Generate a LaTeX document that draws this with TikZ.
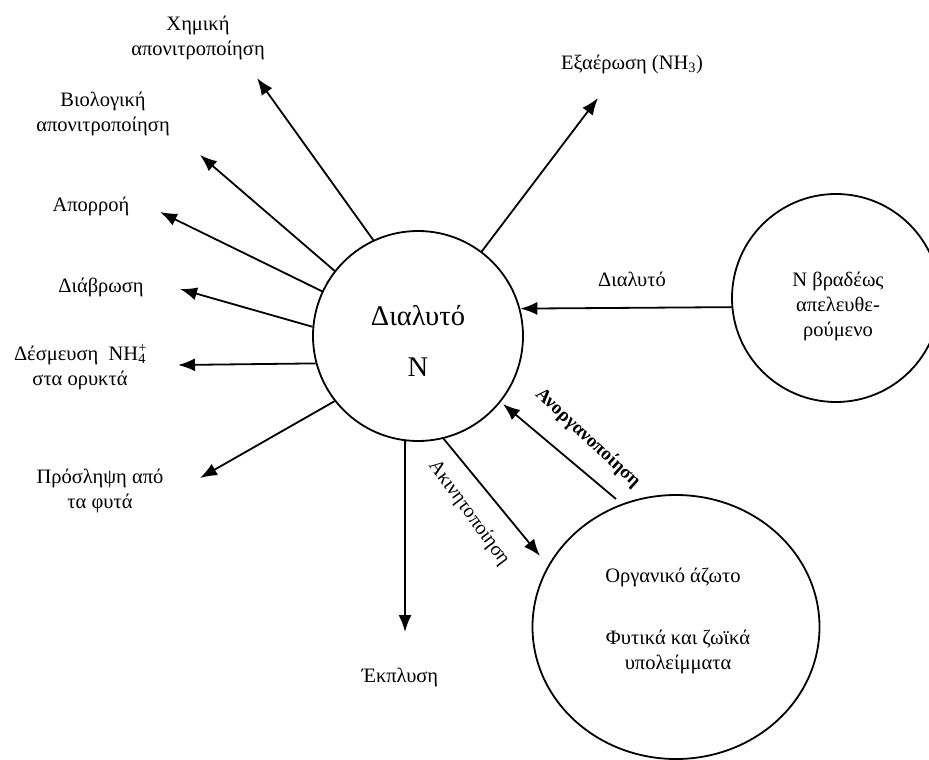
\documentclass[tikz,border=0pt]{standalone}
\usepackage{fontspec}
\setmainfont{Liberation Serif}
\usetikzlibrary{arrows.meta,shapes.geometric}
\begin{document}
\begin{tikzpicture}[x=1pt,y=-1pt,
  lbl/.style={font=\fontsize{20.5}{25}\selectfont, align=center, inner sep=0pt},
  big/.style={font=\fontsize{28.5}{32}\selectfont, inner sep=0pt},
  pool/.style={draw, line width=1.8pt, circle, inner sep=0pt},
  flow/.style={line width=1.8pt, -{Latex[length=17pt,width=13pt]}},
  rot/.style={font=\fontsize{20}{24}\selectfont, inner sep=0pt}]
\useasboundingbox (0,0) rectangle (929,760);
\clip (0,0) rectangle (929,760);
% pools
\node[pool, minimum size=210pt] (c) at (418,336) {};
\node[pool, minimum size=208pt] (r) at (836,298) {};
\node[draw, line width=1.8pt, ellipse, inner sep=0pt, minimum width=287pt, minimum height=264pt] (o) at (676,627) {};
% texts in pools
\node[big] (cd) at (418,316) {Διαλυτό};
\node[big] (cn) at (418,367) {N};
\node[lbl] (rt) at (838,306) {Ν βραδέως\\απελευθε-\\ρούμενο};
\node[lbl] (ot1) at (673,577) {Οργανικό άζωτο};
\node[lbl] (ot2) at (678,652) {Φυτικά και ζωϊκά\\υπολείμματα};
% outer labels
\node[lbl] (l1) at (198,38) {Χημική\\απονιτροποίηση};
\node[lbl] (l2) at (103,114) {Βιολογική\\απονιτροποίηση};
\node[lbl] (l3) at (91,206) {Απορροή};
\node[lbl] (l4) at (101,287) {Διάβρωση};
\node[lbl] (l5) at (80,367) {Δέσμευση\ \ NH\rlap{\textsuperscript{+}}\textsubscript{4}\\στα ορυκτά};
\node[lbl] (l6) at (100,491) {Πρόσληψη από\\τα φυτά};
\node[lbl] (l7) at (400,677) {Έκπλυση};
\node[lbl] (l8) at (632,64) {Εξαέρωση (NH\textsubscript{3})};
\node[lbl] (l9) at (632,279) {Διαλυτό};
\node[rot, font=\fontsize{19}{22}\selectfont\bfseries, rotate=-43] (l10) at (588,438) {Ανοργανοποίηση};
\node[rot, rotate=-54] (l11) at (469,513) {Ακινητοποίηση};
% arrow tips
\coordinate (t1) at (257,78);
\coordinate (t2) at (200,155);
\coordinate (t3) at (160,212);
\coordinate (t4) at (180,289);
\coordinate (t5) at (178,365);
\coordinate (t6) at (200,478);
\coordinate (t7) at (405,632);
\coordinate (t8) at (540,556);
\coordinate (t9) at (503,404);
\coordinate (t10) at (598,98);
\coordinate (s9) at (616,499);
% arrows
\draw[flow] (c.115) -- (t1);
\draw[flow] (c.142) -- (t2);
\draw[flow] (c.155) -- (t3);
\draw[flow] (c.175) -- (t4);
\draw[flow] (c.195) -- (t5);
\draw[flow] (c.218) -- (t6);
\draw[flow] (c.263) -- (t7);
\draw[flow] (c.284) -- (t8);
\draw[flow] (s9) -- (t9);
\draw[flow] (c.53) -- (t10);
\draw[flow] (r.185.5) -- (c.15);
\end{tikzpicture}
\end{document}
